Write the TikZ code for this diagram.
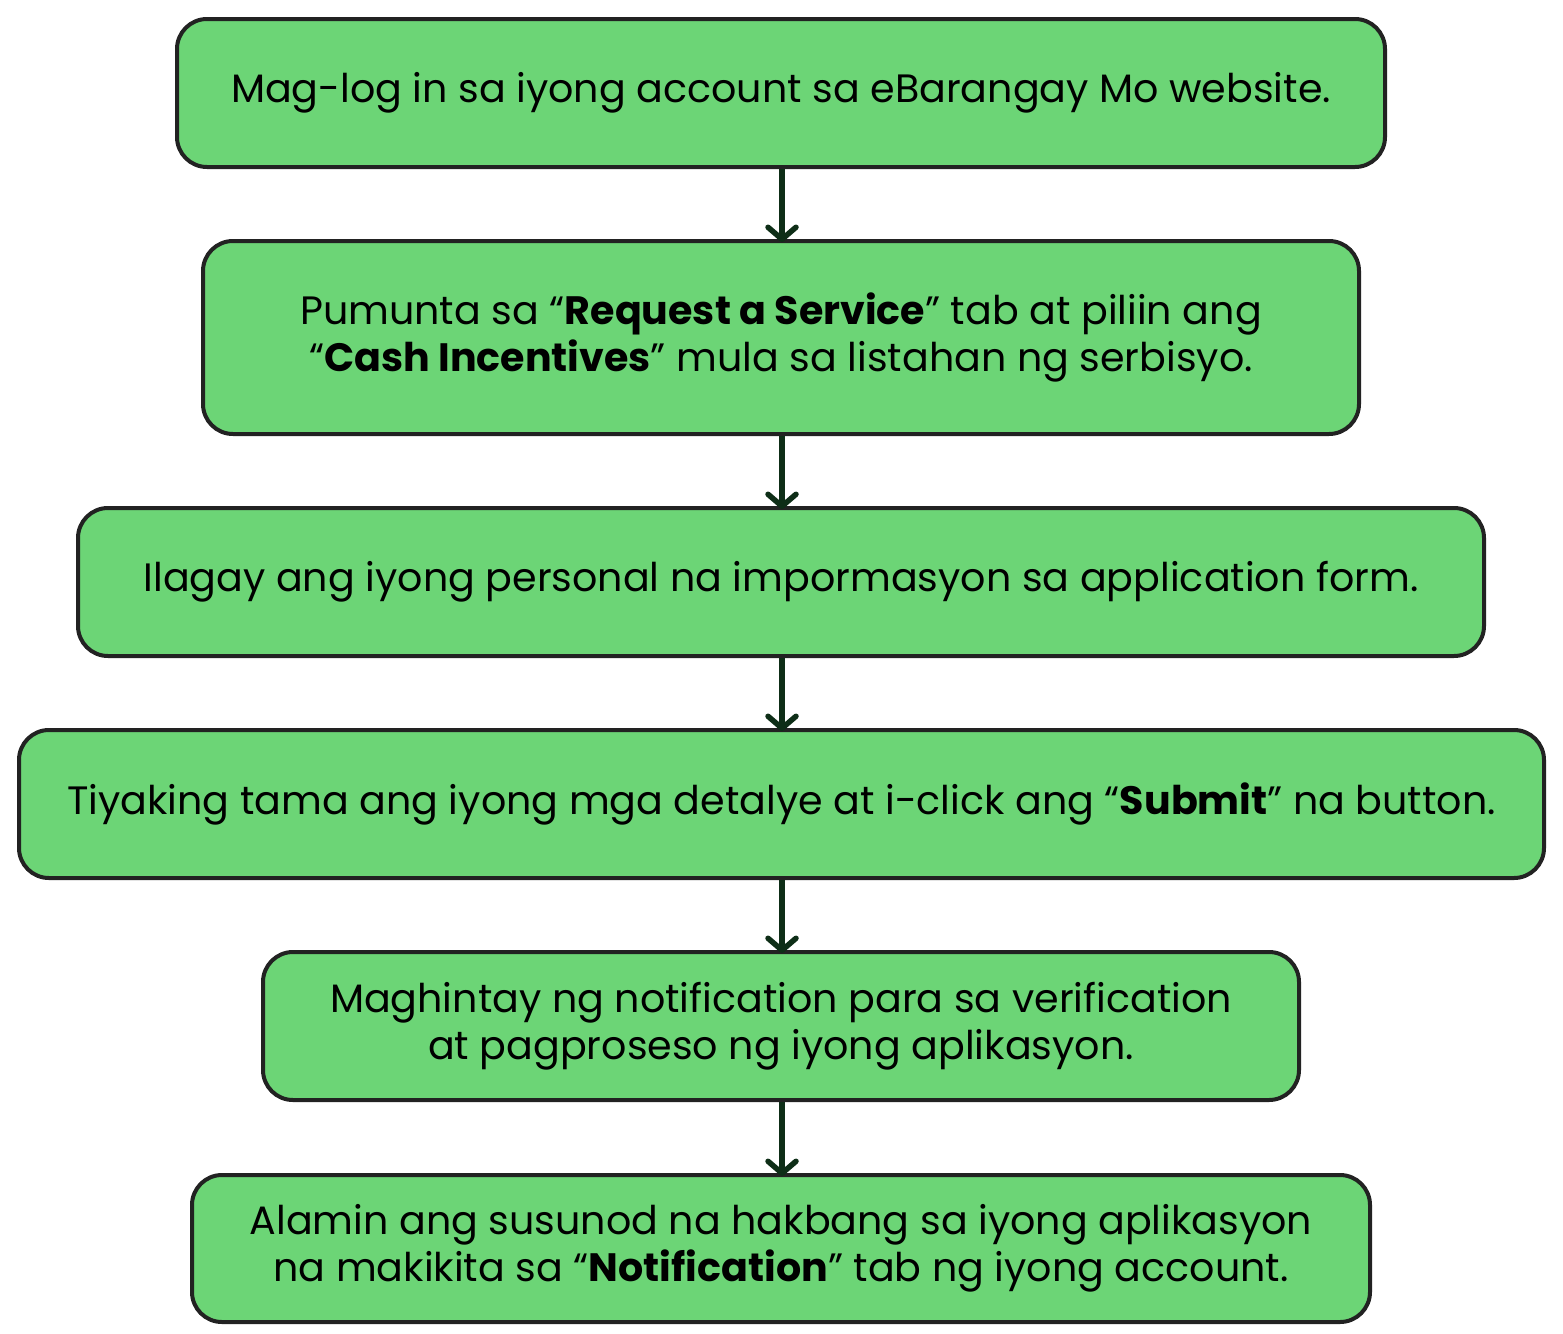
\documentclass[tikz,border=0pt]{standalone}
\usepackage{fontspec}
\setmainfont{Poppins}
\usetikzlibrary{arrows.meta}
\definecolor{boxgreen}{HTML}{6CD576}
\definecolor{boxline}{HTML}{222222}
\definecolor{arrowgreen}{HTML}{0E2E17}
\tikzset{
  stepbox/.style={draw=boxline, line width=4pt, fill=boxgreen, rounded corners=30pt,
    align=center, inner sep=0pt, font=\fontsize{39.6}{47}\selectfont},
  flowarrow/.style={draw=arrowgreen, line width=5.5pt,
    -{Straight Barb[length=12pt, width=28pt, line cap=round, line join=round]}}
}
\begin{document}
\begin{tikzpicture}[x=1pt,y=-1pt]
\useasboundingbox (0,0) rectangle (1563,1333);
\node[stepbox, minimum width=1208pt, minimum height=148pt] (s1) at (781,93)
  {Mag-log in sa iyong account sa eBarangay Mo website.};
\node[stepbox, minimum width=1156pt, minimum height=193pt] (s2) at (781,337.5)
  {Pumunta sa “\textbf{Request a Service}” tab at piliin ang\\“\textbf{Cash Incentives}” mula sa listahan ng serbisyo.};
\node[stepbox, minimum width=1406pt, minimum height=148pt] (s3) at (781,582)
  {Ilagay ang iyong personal na impormasyon sa application form.};
\node[stepbox, minimum width=1525pt, minimum height=148pt] (s4) at (781.5,804)
  {Tiyaking tama ang iyong mga detalye at i-click ang “\textbf{Submit}” na button.};
\node[stepbox, minimum width=1036pt, minimum height=148pt] (s5) at (781,1026)
  {Maghintay ng notification para sa verification\\at pagproseso ng iyong aplikasyon.};
\node[stepbox, minimum width=1178pt, minimum height=147pt] (s6) at (781,1248.5)
  {Alamin ang susunod na hakbang sa iyong aplikasyon\\na makikita sa “\textbf{Notification}” tab ng iyong account.};
\foreach \a/\b in {s1/s2,s2/s3,s3/s4,s4/s5,s5/s6}{
  \draw[flowarrow] (\a.south -| 782,0) -- ([yshift=-3pt]\b.north -| 782,0);
}
\end{tikzpicture}
\end{document}
